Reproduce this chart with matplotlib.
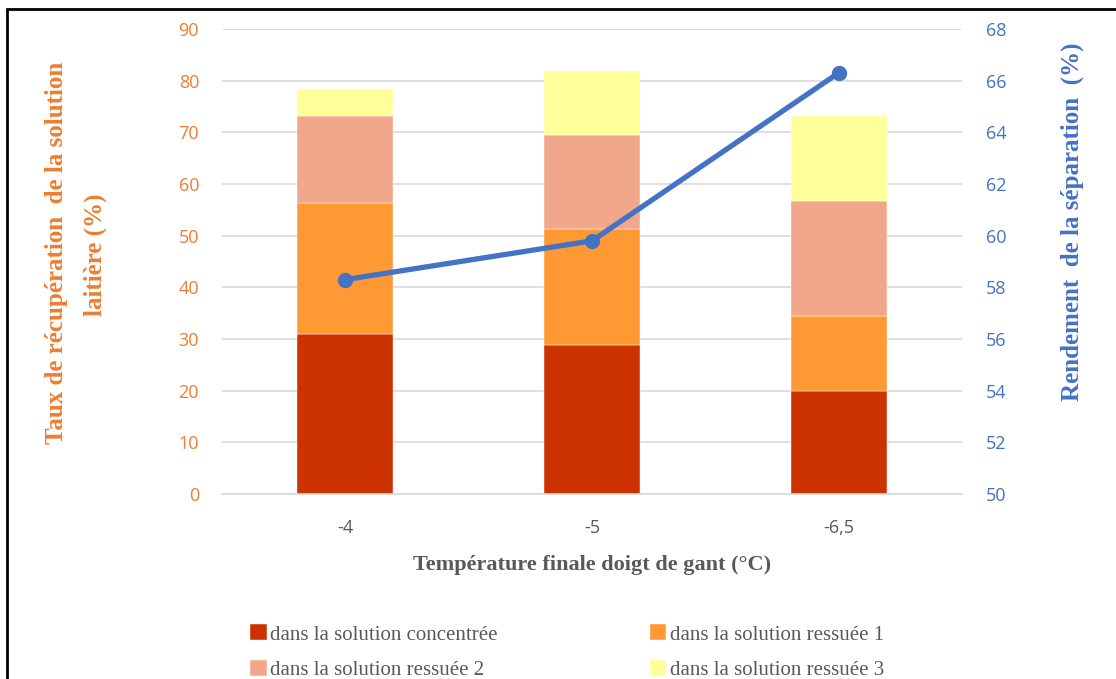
import matplotlib.pyplot as plt
from matplotlib.patches import Rectangle
import numpy as np

# data
categories = ["-4", "-5", "-6,5"]
concentree = [31.0, 28.8, 19.9]
ressuee_1 = [25.3, 22.5, 14.5]
ressuee_2 = [16.9, 18.2, 22.3]
ressuee_3 = [5.2, 12.4, 16.5]
rendement = [58.3, 59.8, 66.3]

series_labels = ["dans la solution concentrée", "dans la solution ressuée 1",
                 "dans la solution ressuée 2", "dans la solution ressuée 3"]
series_colors = ["#CC3300", "#FF9933", "#F0A78A", "#FFFF99"]

W, H = 1116, 679
fig = plt.figure(figsize=(W / 100, H / 100), dpi=100)

# axes box in pixels: x 222..962, y 29..494
ax = fig.add_axes([222 / W, 1 - 494 / H, 740 / W, 465 / H])
x = np.arange(len(categories))
bottom = np.zeros(len(categories))
handles = []
for vals, lab, col in zip([concentree, ressuee_1, ressuee_2, ressuee_3],
                          series_labels, series_colors):
    b = ax.bar(x, vals, width=0.39, bottom=bottom, color=col, label=lab,
               zorder=2, edgecolor="white", linewidth=0.3)
    handles.append(b)
    bottom += np.array(vals)

ax.set_xlim(-0.5, len(categories) - 0.5)
ax.set_ylim(0, 90)
ax.set_yticks(range(0, 91, 10))
ax.yaxis.grid(True, color="#D9D9D9", linewidth=1.2, zorder=0)
ax.set_axisbelow(True)
for s in ["top", "left", "right"]:
    ax.spines[s].set_visible(False)
ax.spines["bottom"].set_color("#D9D9D9")
ax.spines["bottom"].set_linewidth(1.2)
ax.tick_params(axis="y", length=0, pad=16.5, labelsize=13, labelcolor="#ED7D31")
ax.tick_params(axis="x", length=0, pad=18, labelsize=13, labelcolor="#595959")
ax.set_xticks(x)
ax.set_xticklabels(categories)
for t in ax.get_xticklabels() + ax.get_yticklabels():
    t.set_family("Open Sans")

ax2 = ax.twinx()
ax2.plot(x, rendement, color="#4472C4", linewidth=3.8, marker="o",
         markersize=10, zorder=5)
ax2.set_ylim(50, 68)
ax2.set_yticks(range(50, 69, 2))
for s in ["top", "left", "right", "bottom"]:
    ax2.spines[s].set_visible(False)
ax2.tick_params(axis="y", length=0, pad=17, labelsize=13, labelcolor="#4472C4")
for t in ax2.get_yticklabels():
    t.set_family("Open Sans")

# axis titles
fig.text(57 / W, 1 - 253 / H, "Taux de récupération  de la solution",
         rotation=90, ha="center", va="center", family="Liberation Serif",
         weight="bold", fontsize=18, color="#ED7D31")
fig.text(95 / W, 1 - 255 / H, "laitière (%)",
         rotation=90, ha="center", va="center", family="Liberation Serif",
         weight="bold", fontsize=18, color="#ED7D31")
fig.text(1072 / W, 1 - 222 / H, "Rendement  de la séparation  (%)",
         rotation=90, ha="center", va="center", family="Liberation Serif",
         weight="bold", fontsize=18, color="#4472C4")
fig.text(592 / W, 1 - 565 / H, "Température finale doigt de gant (°C)",
         ha="center", va="center", family="Liberation Serif",
         weight="bold", fontsize=16, color="#595959")

# legend, filled column by column so rows read 1-2 / 3-4
order = [0, 2, 1, 3]
leg = fig.legend(handles=[handles[i] for i in order],
                 labels=[series_labels[i] for i in order], ncol=2,
                 loc="upper left", bbox_to_anchor=(240 / W, 1 - 614 / H),
                 frameon=False, handlelength=0.8, handleheight=0.8,
                 handletextpad=0.15, columnspacing=7.3, labelspacing=0.75,
                 borderpad=0, prop={"family": "Liberation Serif", "size": 15})
for t in leg.get_texts():
    t.set_color("#595959")

# outer frame
fig.patches.append(Rectangle((7 / W, -0.1), 1.2, 1 - 9 / H + 0.1,
                             transform=fig.transFigure, fill=False,
                             edgecolor="black", linewidth=2, clip_on=False))

fig.savefig("out.png", dpi=100)
